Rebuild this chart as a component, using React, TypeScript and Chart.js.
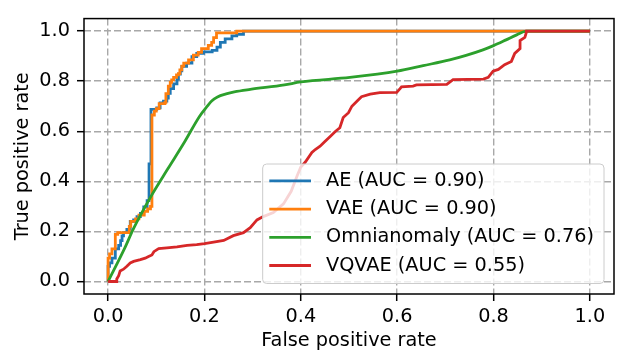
import React, { useEffect, useRef } from "react";
import { Chart, registerables } from "chart.js";

Chart.register(...registerables);

const FONT = "'DejaVu Sans', 'Liberation Sans', sans-serif";

const xLabel = "False positive rate";
const yLabel = "True positive rate";
const tickValues = [0, 0.2, 0.4, 0.6, 0.8, 1.0];

const seriesNames = [
  "AE (AUC = 0.90)",
  "VAE (AUC = 0.90)",
  "Omnianomaly (AUC = 0.76)",
  "VQVAE (AUC = 0.55)",
];
const seriesColors = ["#1f77b4", "#ff7f0e", "#2ca02c", "#d62728"];

const aeFpr = [0,0,0.003,0.003,0.008,0.008,0.015,0.015,0.022,0.022,0.026,0.026,0.029,0.029,0.032,0.032,0.039,0.039,0.046,0.046,0.053,0.053,0.06,0.06,0.067,0.067,0.074,0.074,0.081,0.081,0.085,0.085,0.089,0.089,0.101,0.101,0.108,0.108,0.115,0.115,0.122,0.122,0.125,0.125,0.129,0.129,0.136,0.136,0.143,0.143,0.146,0.146,0.15,0.15,0.153,0.153,0.163,0.163,0.174,0.174,0.184,0.184,0.198,0.198,0.216,0.216,0.226,0.226,0.233,0.233,0.243,0.243,0.257,0.257,0.267,0.267,0.281,0.281,1];
const aeTpr = [0,0.06,0.06,0.074,0.074,0.093,0.093,0.13,0.13,0.144,0.144,0.163,0.163,0.182,0.182,0.195,0.195,0.208,0.208,0.24,0.24,0.246,0.246,0.259,0.259,0.272,0.272,0.298,0.298,0.323,0.323,0.47,0.47,0.687,0.687,0.693,0.693,0.713,0.713,0.72,0.72,0.732,0.732,0.751,0.751,0.77,0.77,0.789,0.789,0.808,0.808,0.828,0.828,0.841,0.841,0.859,0.859,0.872,0.872,0.898,0.898,0.911,0.911,0.917,0.917,0.923,0.923,0.936,0.936,0.955,0.955,0.969,0.969,0.981,0.981,0.987,0.987,1,1];

const vaeFpr = [0,0,0.003,0.003,0.008,0.008,0.015,0.015,0.02,0.02,0.044,0.044,0.047,0.047,0.057,0.057,0.064,0.064,0.075,0.075,0.082,0.082,0.088,0.088,0.091,0.091,0.096,0.096,0.1,0.1,0.106,0.106,0.118,0.118,0.12,0.12,0.125,0.125,0.129,0.129,0.132,0.132,0.136,0.136,0.142,0.142,0.146,0.146,0.149,0.149,0.153,0.153,0.157,0.157,0.167,0.167,0.177,0.177,0.187,0.187,0.194,0.194,0.208,0.208,0.215,0.215,0.219,0.219,0.225,0.225,0.267,0.267,1];
const vaeTpr = [0,0.093,0.093,0.11,0.11,0.13,0.13,0.188,0.188,0.195,0.195,0.22,0.22,0.24,0.24,0.25,0.25,0.265,0.265,0.28,0.28,0.29,0.29,0.3,0.3,0.665,0.665,0.68,0.68,0.69,0.69,0.71,0.71,0.715,0.715,0.75,0.75,0.78,0.78,0.795,0.795,0.805,0.805,0.815,0.815,0.825,0.825,0.83,0.83,0.845,0.845,0.86,0.86,0.872,0.872,0.885,0.885,0.904,0.904,0.915,0.915,0.93,0.93,0.943,0.943,0.955,0.955,0.974,0.974,0.993,0.993,1,1];

const omFpr = [0,0.034,0.053,0.089,0.124,0.158,0.19,0.205,0.215,0.227,0.245,0.262,0.295,0.366,0.4,0.502,0.6,0.654,0.709,0.743,0.778,0.8,0.826,0.848,0.868,1];
const omTpr = [0,0.131,0.212,0.34,0.45,0.555,0.66,0.698,0.721,0.737,0.749,0.757,0.767,0.785,0.797,0.815,0.84,0.862,0.885,0.903,0.925,0.942,0.965,0.985,1,1];

const vqFpr = [0,0.018,0.018,0.022,0.025,0.032,0.039,0.046,0.053,0.067,0.077,0.084,0.091,0.095,0.105,0.122,0.143,0.164,0.184,0.2,0.219,0.24,0.26,0.281,0.295,0.309,0.322,0.343,0.364,0.38,0.392,0.4,0.409,0.423,0.43,0.44,0.45,0.461,0.471,0.481,0.488,0.499,0.506,0.519,0.526,0.544,0.564,0.599,0.606,0.609,0.633,0.64,0.703,0.716,0.779,0.789,0.799,0.81,0.823,0.837,0.844,0.855,0.855,0.865,0.868,0.868,1];
const vqTpr = [0,0,0.01,0.023,0.042,0.049,0.061,0.074,0.08,0.087,0.093,0.1,0.106,0.119,0.131,0.134,0.138,0.144,0.147,0.151,0.157,0.164,0.183,0.195,0.215,0.246,0.259,0.275,0.31,0.36,0.42,0.457,0.476,0.515,0.527,0.54,0.559,0.579,0.598,0.614,0.655,0.674,0.7,0.725,0.738,0.748,0.754,0.755,0.77,0.777,0.78,0.785,0.787,0.806,0.808,0.815,0.84,0.847,0.866,0.879,0.911,0.93,0.962,0.975,0.994,1,1];

const zip = (xs: number[], ys: number[]) => xs.map((x, i) => ({ x, y: ys[i] }));

const FS = 19.3;

const frameLegendPlugin = {
  id: "frameLegend",
  afterDatasetsDraw(chart: any) {
    const { ctx, chartArea: a } = chart;
    ctx.save();
    ctx.strokeStyle = "#000";
    ctx.lineWidth = 1.5;
    ctx.setLineDash([]);
    ctx.strokeRect(a.left, a.top, a.right - a.left, a.bottom - a.top);

    ctx.font = `${FS}px ${FONT}`;
    const ds = chart.data.datasets;
    let maxW = 0;
    ds.forEach((d: any) => {
      maxW = Math.max(maxW, ctx.measureText(d.label).width);
    });
    const textOff = 63.3;
    const w = textOff + maxW + 10;
    const h = 119.5;
    const right = a.right - 10;
    const bottom = a.bottom - 10.5;
    const left = right - w;
    const top = bottom - h;
    const r = 4;
    ctx.beginPath();
    ctx.moveTo(left + r, top);
    ctx.lineTo(right - r, top);
    ctx.arcTo(right, top, right, top + r, r);
    ctx.lineTo(right, bottom - r);
    ctx.arcTo(right, bottom, right - r, bottom, r);
    ctx.lineTo(left + r, bottom);
    ctx.arcTo(left, bottom, left, bottom - r, r);
    ctx.lineTo(left, top + r);
    ctx.arcTo(left, top, left + r, top, r);
    ctx.closePath();
    ctx.fillStyle = "rgba(255,255,255,0.8)";
    ctx.fill();
    ctx.strokeStyle = "#cccccc";
    ctx.lineWidth = 1;
    ctx.stroke();

    ds.forEach((d: any, i: number) => {
      const cy = top + 16.9 + i * 28.2;
      ctx.beginPath();
      ctx.strokeStyle = d.borderColor;
      ctx.lineWidth = 2.8;
      ctx.moveTo(left + 6.6, cy);
      ctx.lineTo(left + 48.3, cy);
      ctx.stroke();
      ctx.fillStyle = "#000";
      ctx.textAlign = "left";
      ctx.textBaseline = "middle";
      ctx.fillText(d.label, left + textOff, cy);
    });
    ctx.restore();
  },
};

export default function App() {
  const canvasRef = useRef<HTMLCanvasElement | null>(null);

  useEffect(() => {
    const canvas = canvasRef.current;
    if (!canvas) return;
    const series = [
      zip(aeFpr, aeTpr),
      zip(vaeFpr, vaeTpr),
      zip(omFpr, omTpr),
      zip(vqFpr, vqTpr),
    ];
    const orders = [4, 3, 2, 1];
    const tickFont = { family: FONT, size: FS };
    const makeScale = (title: string, isX: boolean) => ({
      type: "linear" as const,
      min: -0.05,
      max: 1.05,
      afterBuildTicks: (scale: any) => {
        scale.ticks = tickValues.map((v) => ({ value: v }));
      },
      afterFit: (scale: any) => {
        if (isX) scale.height = 60;
        else scale.width = 84;
      },
      grid: {
        color: "#a8a8a8",
        lineWidth: 1.4,
        drawTicks: true,
        tickLength: 7,
        tickColor: "#000",
        tickWidth: 1.5,
        tickBorderDash: [],
      },
      border: { display: false, dash: [7, 3] },
      ticks: {
        color: "#000",
        font: tickFont,
        padding: isX ? 4 : 7,
        autoSkip: false,
        maxRotation: 0,
        callback: (v: any) => Number(v).toFixed(1),
      },
      title: {
        display: true,
        text: title,
        color: "#000",
        font: { family: FONT, size: FS },
        padding: isX ? { top: 0, bottom: 1 } : { top: 11, bottom: 0 },
      },
    });

    const chart = new Chart(canvas, {
      type: "line",
      data: {
        datasets: series.map((pts, i) => ({
          label: seriesNames[i],
          data: pts,
          borderColor: seriesColors[i],
          backgroundColor: seriesColors[i],
          borderWidth: 2.8,
          pointRadius: 0,
          fill: false,
          tension: 0,
          cubicInterpolationMode: i === 2 ? ("monotone" as const) : ("default" as const),
          order: orders[i],
        })),
      },
      options: {
        responsive: false,
        animation: false,
        devicePixelRatio: 1,
        parsing: false as any,
        layout: { padding: { left: 0, right: 10, top: 7, bottom: 0 } },
        plugins: {
          legend: { display: false },
          tooltip: { enabled: false },
        },
        scales: {
          x: makeScale(xLabel, true),
          y: makeScale(yLabel, false),
        },
      },
      plugins: [frameLegendPlugin],
    });
    return () => chart.destroy();
  }, []);

  return (
    <div style={{ position: "absolute", left: 0, top: 0, width: 624, height: 354, background: "#fff" }}>
      <canvas ref={canvasRef} width={624} height={354} style={{ width: 624, height: 354, display: "block" }} />
    </div>
  );
}
